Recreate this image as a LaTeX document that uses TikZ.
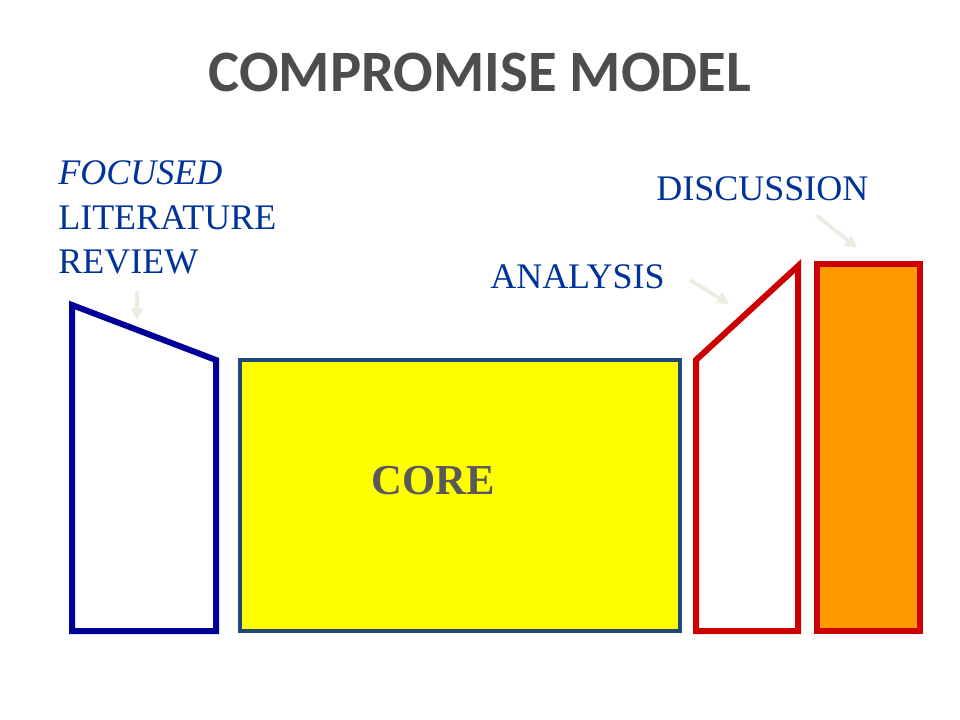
\documentclass[tikz,border=0pt]{standalone}
\usepackage{fontspec}
\setmainfont{Liberation Serif}
\newfontfamily\titlefont{Carlito}
\usepackage{tikz}
\usetikzlibrary{arrows.meta,positioning,calc}
\definecolor{labelblue}{HTML}{003399}
\definecolor{navyline}{HTML}{000099}
\definecolor{redline}{HTML}{CC0000}
\definecolor{orangefill}{HTML}{FF9900}
\definecolor{corefill}{HTML}{FFFF00}
\definecolor{coreedge}{HTML}{1F497D}
\definecolor{titlegray}{HTML}{4D4D4D}
\definecolor{coregray}{HTML}{595959}
\definecolor{pointer}{HTML}{EEECE1}

\begin{document}
\begin{tikzpicture}[x=0.75pt, y=-0.75pt, >={Triangle[length=9pt,width=9pt]},
  every node/.style={inner sep=0pt},
  lbl/.style={text=labelblue, font=\fontsize{27}{32}\selectfont, anchor=base west},
  pointarrow/.style={->, draw=pointer, fill=pointer, line width=2.8pt},
  thickside/.style={line width=4.5pt, line join=miter}]
\useasboundingbox (0,0) rectangle (960,720);
\node[font=\titlefont\bfseries\fontsize{44}{50}\selectfont, text=titlegray] (title) at (480,72) {COMPROMISE MODEL};
% labels
\node[lbl] (focused) at (58,185) {\textit{FOCUSED}};
\node[lbl] (literature) at (58,230) {LITERATURE};
\node[lbl] (review) at (58,274) {REVIEW};
\node[lbl] (analysis) at (490,289) {ANALYSIS};
\node[lbl] (discussion) at (656,201) {DISCUSSION};
% shapes
\draw[thickside, draw=navyline] (72,305) -- (216,360) -- (216,631) -- (72,631) -- cycle;
\draw[fill=corefill, draw=coreedge, line width=2.5pt] (240,360) rectangle (680,631);
\node[font=\bfseries\fontsize{32}{38}\selectfont, text=coregray, anchor=base west] (core) at (371,494) {CORE};
\draw[thickside, draw=redline] (696,360) -- (798,266) -- (798,631) -- (696,631) -- cycle;
\draw[thickside, draw=redline, fill=orangefill] (817,264) rectangle (920,631);
% pointers
\coordinate (tlit) at (137,320);
\coordinate (tana) at (729,304);
\coordinate (tdis) at (857,248);
\draw[pointarrow] ($(review.south west)+(79,16)$) -- (tlit);
\draw[pointarrow] ($(analysis.base east)+(25,-9)$) -- (tana);
\draw[pointarrow] ($(discussion.base west)+(160,14)$) -- (tdis);
\end{tikzpicture}
\end{document}
